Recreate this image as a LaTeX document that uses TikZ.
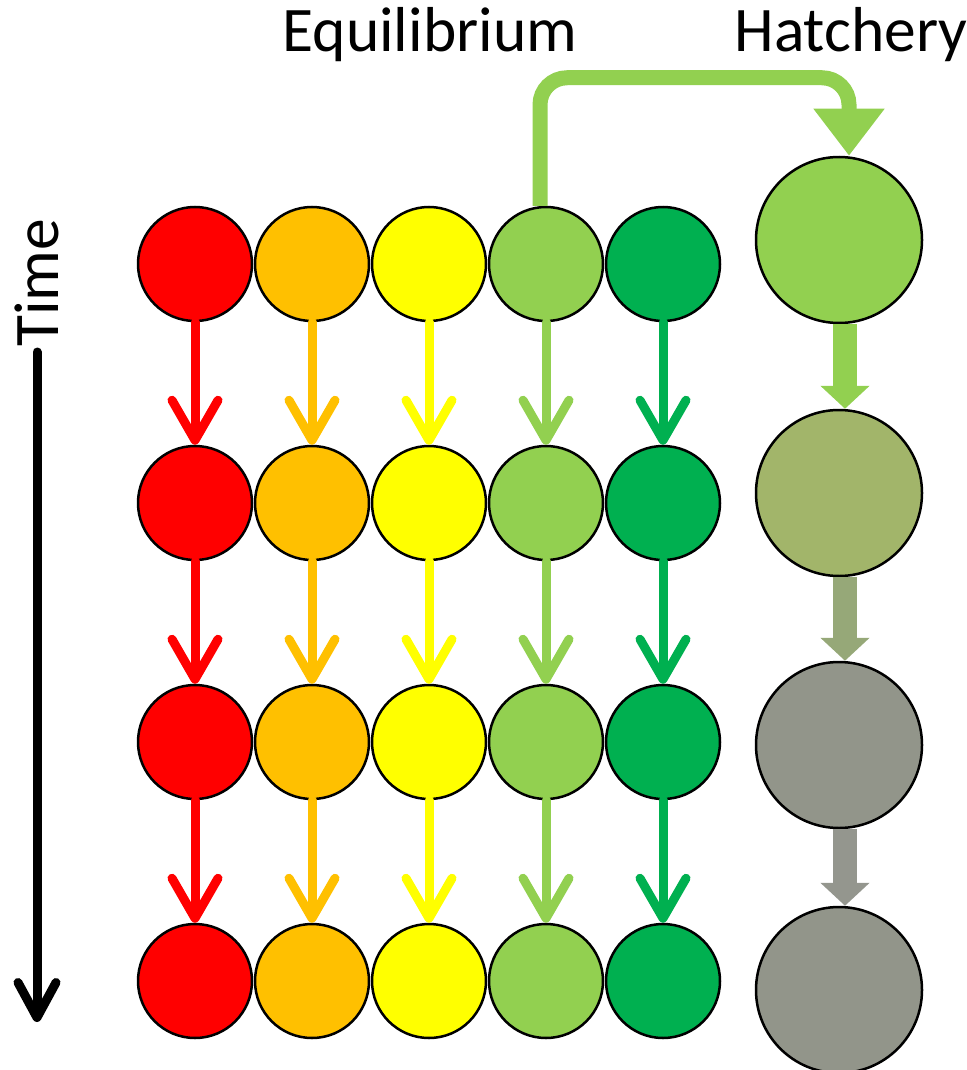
\documentclass[tikz,border=0pt]{standalone}
\usepackage{fontspec}
\setmainfont{Carlito}
\usetikzlibrary{arrows.meta}
\definecolor{cRed}{HTML}{FF0000}
\definecolor{cOrange}{HTML}{FFC000}
\definecolor{cYellow}{HTML}{FFFF00}
\definecolor{cLight}{HTML}{92D050}
\definecolor{cGreen}{HTML}{00B050}
\definecolor{hOlive}{RGB}{162,181,106}
\definecolor{hGrey}{RGB}{146,149,138}
\definecolor{aOlive}{RGB}{150,168,120}
\definecolor{aGrey}{RGB}{148,150,142}
\tikzset{
	fish/.style = {circle, draw = black, line width = 2.5pt, minimum size = 114pt, inner sep = 0pt},
	bigfish/.style = {fish, minimum size = 166pt},
	gen/.style = {line width = 9pt, line cap = round, -{Straight Barb[length = 40pt, width = 46pt, round]}},
	stock/.style = {line width = 24pt, -{Triangle[length = 23pt, width = 48pt]}},
	title/.style = {font = \fontsize{63.5}{76}\selectfont, inner sep = 0pt}
}
\begin{document}
\begin{tikzpicture}[x = 1pt, y = -1pt]
	\useasboundingbox (0,0) rectangle (966,1070);
	% titles
	\node[title, anchor = base] (eq) at (430,52) {Equilibrium};
	\node[title, anchor = base] (ha) at (851,52) {Hatchery};
	\node[title, anchor = base, rotate = 90] (ti) at (58,283) {Time};
	% time axis
	\coordinate (tTop) at (37,352);
	\coordinate (tEnd) at (37,1022);
	\draw[gen, -{Straight Barb[length = 35pt, width = 38pt, round]}] (tTop) -- (tEnd);
	% equilibrium populations
	\foreach \i/\y in {1/264, 2/503, 3/742, 4/981}
		\foreach \j/\col in {1/cRed, 2/cOrange, 3/cYellow, 4/cLight, 5/cGreen}
			\node[fish, fill = \col] (e-\i-\j) at ({195 + 117*(\j - 1)}, \y) {};
	\foreach \i in {1,2,3}{
		\pgfmathtruncatemacro\nx{\i + 1}
		\foreach \j/\col in {1/cRed, 2/cOrange, 3/cYellow, 4/cLight, 5/cGreen}
			\draw[gen, \col] (e-\i-\j.south) -- (e-\nx-\j.north);
	}
	% hatchery
	\node[bigfish, fill = cLight] (h1) at (839,240) {};
	\node[bigfish, fill = hOlive] (h2) at (839,493) {};
	\node[bigfish, fill = hGrey] (h3) at (839,745) {};
	\node[bigfish, fill = hGrey] (h4) at (839,990) {};
	\draw[stock, cLight] ([xshift = 6pt]h1.south) -- ([xshift = 6pt]h2.north);
	\draw[stock, aOlive] ([xshift = 6pt]h2.south) -- ([xshift = 6pt]h3.north);
	\draw[stock, aGrey] ([xshift = 6pt]h3.south) -- ([xshift = 6pt]h4.north);
	% transfer to hatchery
	\draw[cLight, line width = 15pt, rounded corners = 27pt, -{Triangle[length = 47pt, width = 68pt]}]
		([xshift = -6pt]e-1-4.north) -- ++(0,-128) -| ([xshift = 10pt]h1.north);
\end{tikzpicture}
\end{document}
